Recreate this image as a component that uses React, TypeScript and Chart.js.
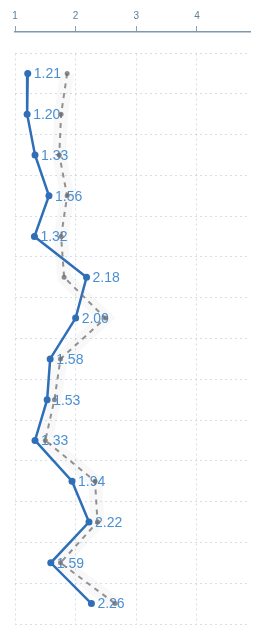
import React, { useEffect, useRef } from 'react';
import { Chart, registerables } from 'chart.js';
Chart.register(...registerables);

const categories = ['1', '2', '3', '4', '5', '6', '7', '8', '9', '10', '11', '12', '13', '14'];
const seriesMain = [1.21, 1.20, 1.33, 1.56, 1.32, 2.18, 2.00, 1.58, 1.53, 1.33, 1.94, 2.22, 1.59, 2.26];
const seriesRef = [1.86, 1.76, 1.73, 1.86, 1.76, 1.81, 2.49, 1.75, 1.65, 1.50, 2.32, 2.36, 1.75, 2.65];
const xTickValues = [1, 2, 3, 4];
const xMin = 1;
const xMax = 4.875;

const valueLabels = {
  id: 'valueLabels',
  afterDatasetDraw(chart: any, args: any) {
    if (args.index !== 0) return;
    const ctx = chart.ctx;
    ctx.save();
    ctx.font = '14px "Liberation Sans", Arial, sans-serif';
    ctx.fillStyle = '#4a8fd2';
    ctx.textBaseline = 'middle';
    ctx.textAlign = 'left';
    args.meta.data.forEach((el: any, i: number) => {
      ctx.fillText(seriesMain[i].toFixed(2), el.x + 6, el.y + 1);
    });
    ctx.restore();
  },
};

export default function App() {
  const ref = useRef<HTMLCanvasElement | null>(null);
  useEffect(() => {
    if (!ref.current) return;
    const gridColor = 'rgba(150,175,200,0.4)';
    const chart = new Chart(ref.current, {
      type: 'line',
      data: {
        labels: categories,
        datasets: [
          {
            data: seriesMain,
            borderColor: '#2f6fb8',
            backgroundColor: '#2f6fb8',
            borderWidth: 2.5,
            pointRadius: 3.5,
            pointBorderWidth: 0,
            tension: 0,
            order: 2,
          },
          {
            data: seriesRef,
            borderColor: 'rgba(110,110,110,0.75)',
            backgroundColor: 'rgba(110,110,110,0.8)',
            borderWidth: 2,
            borderDash: [5, 5],
            pointRadius: 2.5,
            pointBorderWidth: 0,
            tension: 0,
            order: 1,
          },
          {
            data: seriesRef,
            borderColor: 'rgba(0,0,0,0.028)',
            borderWidth: 14,
            pointRadius: 0,
            tension: 0,
            order: 3,
          },
        ],
      },
      options: {
        indexAxis: 'y',
        animation: false,
        responsive: false,
        maintainAspectRatio: false,
        layout: { padding: { top: 7, left: 15, right: -4, bottom: 2 } },
        plugins: { legend: { display: false }, tooltip: { enabled: false } },
        scales: {
          x: {
            type: 'linear',
            position: 'top',
            weight: 10,
            min: xMin,
            max: xMax,
            afterBuildTicks: (s: any) => {
              s.ticks = xTickValues.map((v) => ({ value: v }));
            },
            ticks: {
              color: '#5f8197',
              font: { size: 10, family: '"Liberation Sans", Arial, sans-serif' },
              padding: 3.5,
            },
            grid: {
              color: gridColor,
              lineWidth: 1,
              tickLength: 6,
              tickColor: '#8aa2b4',
              tickWidth: 1,
              tickBorderDash: [],
            },
            border: { display: true, color: '#7f98ab', width: 1.5, dash: [2, 3] },
          },
          xpad: {
            type: 'linear',
            axis: 'x',
            position: 'top',
            weight: 0,
            display: true,
            ticks: { display: false },
            grid: { display: false },
            border: { display: false },
            afterFit: (s: any) => {
              s.height = 21;
            },
          },
          y: {
            type: 'category',
            offset: true,
            ticks: { display: false },
            grid: { color: gridColor, offset: true, drawTicks: false, lineWidth: 1 },
            border: { display: false, dash: [2, 3] },
          },
        },
      },
      plugins: [valueLabels],
    } as any);
    return () => chart.destroy();
  }, []);
  return (
    <div style={{ position: 'fixed', left: 0, top: 0, width: 254, height: 628, background: '#fff' }}>
      <canvas ref={ref} width={254} height={628} style={{ width: 254, height: 628, display: 'block' }} />
    </div>
  );
}
